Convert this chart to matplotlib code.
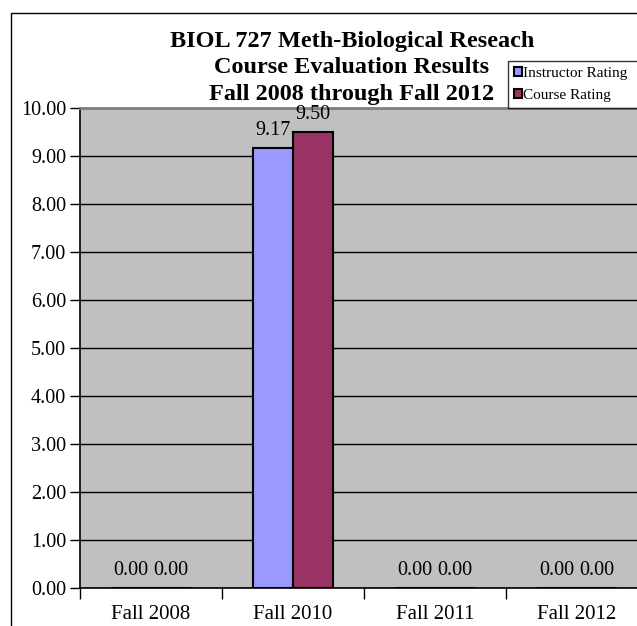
import matplotlib
matplotlib.use("Agg")
import matplotlib.pyplot as plt
import numpy as np
from matplotlib.patches import Rectangle

# Datos del gráfico
semestres = ["Fall 2008", "Fall 2010", "Fall 2011", "Fall 2012"]
instructor = [0.00, 9.17, 0.00, 0.00]
curso = [0.00, 9.50, 0.00, 0.00]
series = ["Instructor Rating", "Course Rating"]
titulo = ["BIOL 727 Meth-Biological Reseach",
          "Course Evaluation Results",
          "Fall 2008 through Fall 2012"]

FUENTE = "Liberation Serif"
AZUL = "#9999FF"
GRANATE = "#993366"
GRIS = "#C0C0C0"

fig = plt.figure(figsize=(6.37, 6.26), dpi=100)
fig.patches.append(Rectangle((11 / 637, -0.1), 1.2, 1.1 - 13 / 626, transform=fig.transFigure,
                             fill=False, edgecolor="black", linewidth=1.0))

ax = fig.add_axes([80 / 637, 1 - 588 / 626, 568 / 637, 480 / 626])
ax.set_facecolor(GRIS)

x = np.arange(len(semestres))
ancho = 0.285
b1 = ax.bar(x - ancho / 2, instructor, ancho, color=AZUL, edgecolor="black", linewidth=1.5,
            label=series[0], zorder=3)
b2 = ax.bar(x + ancho / 2, curso, ancho, color=GRANATE, edgecolor="black", linewidth=1.5,
            label=series[1], zorder=3)

for barras in (b1, b2):
    for b in barras:
        ax.annotate("%.2f" % b.get_height(), (b.get_x() + b.get_width() / 2, b.get_height()),
                    xytext=(0, 6), textcoords="offset points", ha="center", va="bottom",
                    fontsize=14.5, family=FUENTE, zorder=4)

ax.set_xlim(-0.5, len(semestres) - 0.5)
ax.set_ylim(0, 10)
ax.set_yticks(np.arange(0, 11, 1))
ax.set_yticklabels(["%.2f" % v for v in np.arange(0, 11, 1)], family=FUENTE, fontsize=14.5)
ax.yaxis.grid(True, color="black", linewidth=1.0, zorder=0)
ax.set_axisbelow(True)
ax.tick_params(axis="y", direction="out", length=7, width=1, pad=3)

ax.set_xticks(x)
ax.set_xticklabels(semestres, family=FUENTE, fontsize=15)
ax.tick_params(axis="x", which="major", length=0, pad=12)
ax.set_xticks(np.arange(-0.5, len(semestres), 1), minor=True)
ax.tick_params(axis="x", which="minor", direction="out", length=8, width=1)

ax.spines["top"].set_color("#808080")
ax.spines["top"].set_linewidth(2)
ax.spines["right"].set_visible(False)
for lado in ("left", "bottom"):
    ax.spines[lado].set_linewidth(1.2)

# Título en tres líneas, una por texto
for linea, y in zip(titulo, (47, 73, 100)):
    fig.text(352 / 637, 1 - y / 626, linea, ha="center", va="baseline", family=FUENTE,
             fontweight="bold", fontsize=17.5)

leg = ax.legend(loc="lower left", bbox_to_anchor=(508 / 637, 1 - 108 / 626, 130 / 637, 55 / 626),
                bbox_transform=fig.transFigure, prop={"family": FUENTE, "size": 11},
                frameon=True, fancybox=False, edgecolor="black", handlelength=0.5,
                handleheight=0.5, handletextpad=0.1, borderpad=0.4, labelspacing=0.6,
                borderaxespad=0, mode="expand")
leg.get_frame().set_linewidth(1.0)

plt.savefig("out.png", dpi=100)
